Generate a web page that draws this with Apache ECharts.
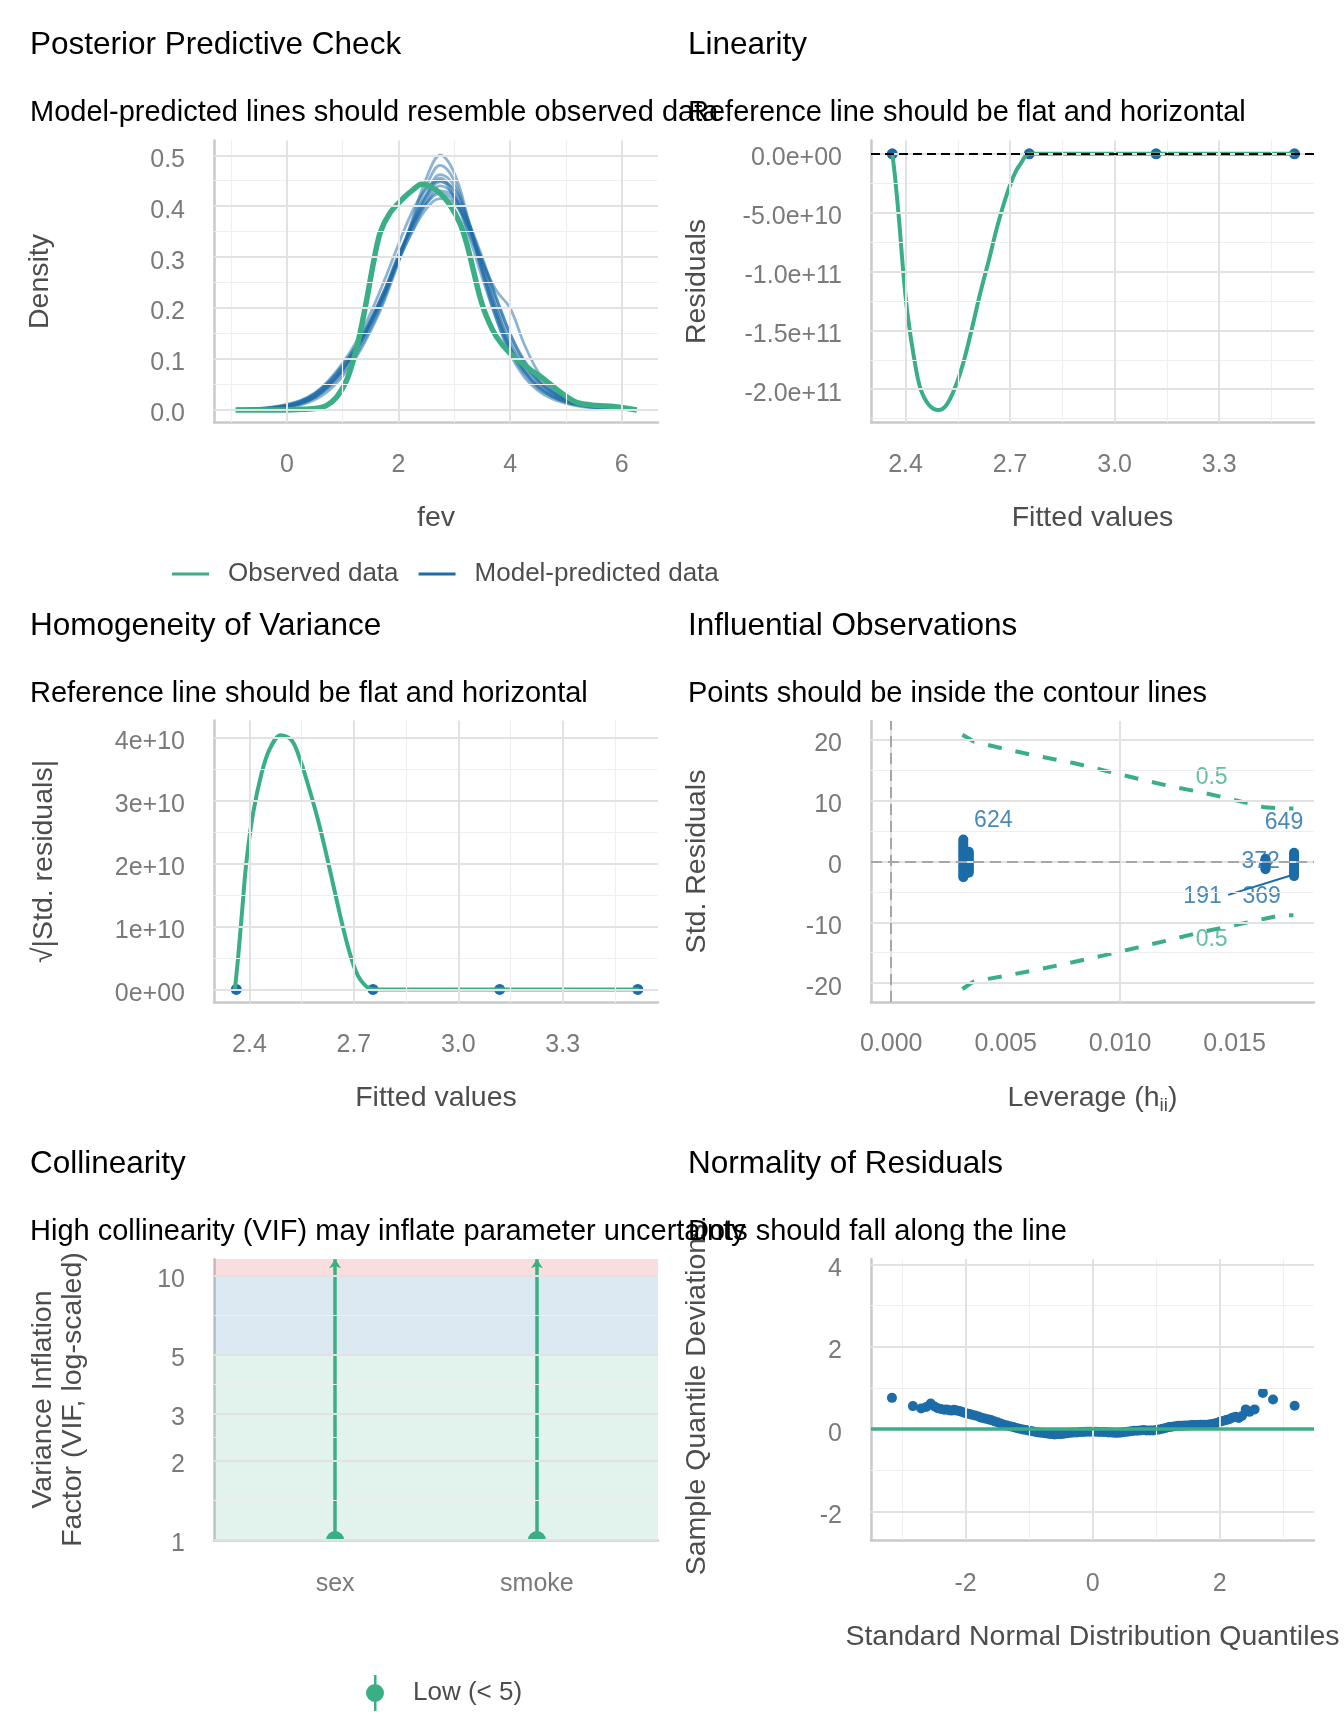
<!DOCTYPE html>
<html>
<head>
<meta charset="utf-8">
<script src="https://cdn.jsdelivr.net/npm/echarts@6/dist/echarts.min.js"></script>
<style>
html,body{margin:0;padding:0;background:#fff;}
#main{width:1344px;height:1728px;}
</style>
</head>
<body>
<div id="main"></div>
<script>
// ---------- data ----------
// posterior predictive check
var ppcSimX = [-0.9,-0.5,-0.25,0,0.25,0.5,0.75,1,1.25,1.5,1.75,2,2.25,2.5,2.75,3,3.25,3.5,3.75,4,4.25,4.5,4.75,5,5.25,5.5,5.75,6,6.25];
var ppcSim01 = [0.001,0.002,0.004,0.008,0.015,0.028,0.050,0.080,0.120,0.170,0.230,0.300,0.360,0.410,0.440,0.420,0.360,0.280,0.200,0.130,0.085,0.055,0.033,0.020,0.012,0.007,0.004,0.002,0.001];
var ppcSim02 = [0.001,0.001,0.003,0.006,0.012,0.024,0.044,0.072,0.110,0.160,0.220,0.295,0.370,0.440,0.480,0.450,0.370,0.275,0.190,0.120,0.075,0.045,0.027,0.016,0.009,0.005,0.003,0.002,0.001];
var ppcSim03 = [0.002,0.003,0.006,0.011,0.019,0.033,0.056,0.088,0.128,0.178,0.235,0.295,0.350,0.395,0.415,0.405,0.360,0.295,0.220,0.150,0.098,0.062,0.038,0.023,0.014,0.008,0.005,0.003,0.001];
var ppcSim04 = [0.001,0.002,0.005,0.010,0.018,0.033,0.058,0.092,0.135,0.190,0.255,0.325,0.390,0.435,0.450,0.415,0.345,0.260,0.180,0.115,0.072,0.043,0.026,0.015,0.009,0.005,0.003,0.002,0.001];
var ppcSim05 = [0.001,0.001,0.002,0.005,0.010,0.020,0.038,0.066,0.105,0.155,0.215,0.290,0.375,0.455,0.500,0.465,0.375,0.270,0.180,0.110,0.065,0.038,0.022,0.013,0.007,0.004,0.002,0.001,0.001];
var ppcSim06 = [0.001,0.002,0.004,0.008,0.016,0.030,0.052,0.083,0.123,0.172,0.228,0.292,0.352,0.405,0.430,0.418,0.370,0.300,0.222,0.150,0.095,0.058,0.035,0.021,0.012,0.007,0.004,0.002,0.001];
var ppcSim07 = [0.001,0.002,0.004,0.007,0.013,0.025,0.046,0.077,0.118,0.168,0.226,0.298,0.368,0.425,0.462,0.440,0.365,0.272,0.188,0.122,0.078,0.049,0.030,0.018,0.010,0.006,0.003,0.002,0.001];
var ppcSim08 = [0.001,0.002,0.004,0.008,0.014,0.026,0.047,0.078,0.118,0.168,0.228,0.300,0.365,0.420,0.455,0.425,0.350,0.290,0.235,0.200,0.130,0.075,0.040,0.022,0.012,0.007,0.004,0.002,0.001];
var ppcSim09 = [0.002,0.003,0.005,0.009,0.017,0.031,0.054,0.086,0.126,0.176,0.236,0.305,0.362,0.405,0.425,0.410,0.362,0.292,0.212,0.140,0.090,0.057,0.035,0.021,0.012,0.007,0.004,0.002,0.001];
var ppcSim10 = [0.001,0.002,0.003,0.007,0.013,0.026,0.048,0.080,0.122,0.174,0.234,0.302,0.362,0.418,0.448,0.432,0.372,0.285,0.198,0.125,0.078,0.047,0.028,0.017,0.010,0.006,0.003,0.002,0.001];
var ppcObsX = [-0.92,-0.5,-0.13,0.2,0.5,0.7,0.89,1.07,1.19,1.31,1.43,1.55,1.67,1.85,2.09,2.27,2.41,2.56,2.74,2.92,3.10,3.22,3.34,3.46,3.58,3.76,4.00,4.30,4.60,4.90,5.19,5.55,5.85,6.27];
var ppcObsY = [0,0,0,0.001,0.003,0.008,0.025,0.058,0.097,0.150,0.216,0.288,0.347,0.387,0.416,0.433,0.443,0.439,0.426,0.403,0.367,0.328,0.275,0.222,0.183,0.143,0.111,0.084,0.061,0.035,0.015,0.0086,0.0066,0];

// fitted values (4 cells) and the smoother curves
var fittedX = [2.362, 2.755, 3.119, 3.516];
var fittedResid = [0, 0, 0, 0];
var fittedSqrtRes = [0, 0, 0, 0];
var linCurveX = [2.362,2.369,2.382,2.394,2.406,2.425,2.443,2.468,2.495,2.517,2.541,2.566,2.590,2.615,2.640,2.664,2.689,2.713,2.732,2.755,3.119,3.516];
var linCurveY = [0,-1.70e10,-5.79e10,-10.19e10,-13.65e10,-17.43e10,-19.95e10,-21.36e10,-21.77e10,-21.36e10,-19.95e10,-17.74e10,-14.91e10,-11.77e10,-8.94e10,-6.10e10,-3.59e10,-1.70e10,-0.76e10,0,0,0];
var homCurveX = [2.358,2.367,2.379,2.391,2.410,2.435,2.459,2.490,2.521,2.545,2.570,2.595,2.619,2.644,2.669,2.693,2.718,2.755,3.121,3.520];
var homCurveY = [0,0.49e10,1.26e10,2.02e10,2.79e10,3.44e10,3.83e10,4.04e10,3.96e10,3.66e10,3.22e10,2.73e10,2.19e10,1.58e10,0.98e10,0.49e10,0.16e10,0,0,0];

// influential observations
var infLevA = 0.00315, infResA = [3.6,3.2,2.8,2.4,2.0,1.6,1.2,0.8,0.4,0.0,-0.4,-0.8,-1.2,-1.6,-2.0,-2.3,-2.6];
var infLevB = 0.00339, infResB = [1.6,1.2,0.8,0.4,0.0,-0.4,-0.8,-1.2,-1.5,-1.85];
var infLevC = 0.01635, infResC = [0.45,0.15,-0.15,-0.45,-0.75,-1.05,-1.27];
var infLevD = 0.01760, infResD = [1.45,1.1,0.75,0.4,0.05,-0.3,-0.65,-1.0,-1.35,-1.7,-2.05,-2.4];
var contourX = [0.00311,0.00361,0.00511,0.00652,0.00792,0.00929,0.01069,0.01210,0.01348,0.01491,0.01631,0.01700,0.01757];
var contourUp = [20.85,19.72,18.37,17.24,16.23,14.99,13.69,12.45,11.44,10.20,8.90,8.73,8.73];
var contourLow = [-20.96,-19.72,-18.70,-17.69,-16.56,-15.44,-14.20,-12.96,-11.66,-10.54,-9.41,-8.85,-8.85];
var infLabels = ['624','649','372','191','369'];
var infLabelX = [0.00446,0.01716,0.01614,0.01360,0.01618];
var infLabelY = [6.7,6.33,0.0,-5.77,-5.77];
var contourLabels = ['0.5','0.5'];
var contourLabelX = [0.0140,0.0140];
var contourLabelY = [13.74,-12.9];
var repelSegX = [0.01472,0.01756];
var repelSegY = [-5.49,-2.19];

// collinearity
var vifTerms = ['sex','smoke'];
var vifValue = [1.0, 1.0];
var vifHigh = [11.5, 11.5];

// normality (detrended QQ)
var qqX = [-3.16,-2.83,-2.70,-2.62,-2.55,-2.49,-2.44,-2.39,-2.34,-2.30,-2.26,-2.22,-2.18,-2.14,-2.10,-2.06,-2.02,-1.98,-1.94,-1.90,-1.85,-1.80,-1.75,-1.70,-1.65,-1.60,-1.55,-1.50,-1.45,-1.40,-1.35,-1.30,-1.25,-1.20,-1.15,-1.10,-1.05,-1.00,-0.95,-0.90,-0.85,-0.80,-0.75,-0.70,-0.65,-0.60,-0.55,-0.50,-0.45,-0.40,-0.35,-0.30,-0.25,-0.20,-0.15,-0.10,-0.05,0.00,0.05,0.10,0.15,0.20,0.25,0.30,0.35,0.40,0.45,0.50,0.55,0.60,0.65,0.70,0.75,0.80,0.85,0.90,0.95,1.00,1.05,1.10,1.15,1.20,1.25,1.30,1.35,1.40,1.45,1.50,1.55,1.60,1.65,1.70,1.75,1.80,1.85,1.90,1.95,2.00,2.05,2.10,2.15,2.20,2.25,2.30,2.35,2.41,2.47,2.55,2.68,2.84,3.18];
var qqY = [0.76,0.56,0.50,0.54,0.62,0.55,0.51,0.49,0.47,0.48,0.46,0.45,0.47,0.45,0.44,0.42,0.40,0.38,0.37,0.35,0.33,0.31,0.28,0.26,0.24,0.22,0.19,0.17,0.14,0.11,0.09,0.07,0.05,0.03,0.01,-0.01,-0.02,-0.04,-0.05,-0.07,-0.08,-0.09,-0.10,-0.11,-0.12,-0.13,-0.12,-0.12,-0.11,-0.10,-0.09,-0.08,-0.08,-0.07,-0.07,-0.06,-0.06,-0.06,-0.06,-0.07,-0.07,-0.07,-0.08,-0.08,-0.09,-0.09,-0.08,-0.07,-0.06,-0.05,-0.04,-0.04,-0.03,-0.02,-0.03,-0.03,-0.03,-0.02,-0.01,0.01,0.03,0.05,0.06,0.07,0.08,0.08,0.09,0.09,0.10,0.10,0.10,0.11,0.11,0.11,0.12,0.13,0.15,0.18,0.20,0.22,0.24,0.28,0.30,0.27,0.32,0.48,0.42,0.48,0.88,0.72,0.57];

// titles and axis names
var titles = ['Posterior Predictive Check','Linearity','Homogeneity of Variance','Influential Observations','Collinearity','Normality of Residuals'];
var subtitles = ['Model-predicted lines should resemble observed data','Reference line should be flat and horizontal','Reference line should be flat and horizontal','Points should be inside the contour lines','High collinearity (VIF) may inflate parameter uncertainty','Dots should fall along the line'];

// ---------- styling ----------
var GREEN = '#3aaf85', BLUE = '#1b6ca8';
var FONT = '"Liberation Sans", Arial, sans-serif';
var TICK = '#7a7a7a', AXT = '#4d4d4d';
var MAJOR = {color: '#e2e2e2', width: 2, type: 'solid'};
var MINOR = {color: '#efefef', width: 1.2, type: 'solid'};

function pts(xs, ys) { return xs.map(function (x, i) { return [x, ys[i]]; }); }
function col(x, ys) { return ys.map(function (y) { return [x, y]; }); }
function sci(d) {
  return function (v) {
    if (v === 0) return (0).toFixed(d) + 'e+00';
    var e = Math.floor(Math.log10(Math.abs(v)) + 1e-9);
    var m = v / Math.pow(10, e);
    var a = Math.abs(e);
    return m.toFixed(d) + 'e' + (e < 0 ? '-' : '+') + (a < 10 ? '0' : '') + a;
  };
}

var grids = [
  {left: 214, top: 140.5, width: 444, height: 282},
  {left: 871, top: 140.5, width: 443, height: 282},
  {left: 214, top: 720.5, width: 444, height: 282},
  {left: 871, top: 721, width: 443, height: 281},
  {left: 214, top: 1259, width: 444, height: 281},
  {left: 871, top: 1259, width: 443, height: 281}
];

function axis(gi, isY, min, max, ticks, fmt, name, gap, margin) {
  var a = {
    type: 'value', gridIndex: gi, min: min, max: max,
    name: name, nameLocation: 'middle', nameGap: gap,
    nameTextStyle: {fontSize: 28.5, color: AXT, fontFamily: FONT, lineHeight: 34},
    axisLine: {show: true, onZero: false, lineStyle: {color: '#c9c9c9', width: 2.5}},
    axisTick: {show: false},
    splitLine: {show: false},
    axisLabel: {customValues: ticks, formatter: fmt, fontSize: 25, color: TICK, fontFamily: FONT, margin: margin}
  };
  if (isY) {
    a.nameRotate = 90;
    // digits sit a little lower than the em-box middle in the reference
    a.axisLabel.verticalAlign = 'top';
    a.axisLabel.lineHeight = 9;
  }
  return a;
}
function plain(v) { return String(v); }
function fix1(v) { return v.toFixed(1); }

var xAxes = [
  axis(0, false, -1.305, 6.65, [0, 2, 4, 6], plain, 'fev', 79, 30),
  axis(1, false, 2.301, 3.572, [2.4, 2.7, 3.0, 3.3], fix1, 'Fitted values', 79, 30),
  axis(2, false, 2.298, 3.574, [2.4, 2.7, 3.0, 3.3], fix1, 'Fitted values', 79, 30),
  axis(3, false, -0.000883, 0.01847, [0, 0.005, 0.01, 0.015], function (v) { return v.toFixed(3); }, 'Leverage (h{sub|ii})', 79, 30),
  axis(4, false, 0.4, 2.6, [1, 2], function (v) { return vifTerms[Math.round(v) - 1]; }, '', 79, 32),
  axis(5, false, -3.49, 3.485, [-2, 0, 2], plain, 'Standard Normal Distribution Quantiles', 80, 32)
];
xAxes[3].nameTextStyle.rich = {sub: {fontSize: 19, color: AXT, fontFamily: FONT, lineHeight: 14, verticalAlign: 'bottom'}};

var yAxes = [
  axis(0, true, -0.0246, 0.529, [0, 0.1, 0.2, 0.3, 0.4, 0.5], fix1, 'Density', 157, 29),
  axis(1, true, -2.283e11, 1.13e10, [0, -5e10, -1e11, -1.5e11, -2e11], sci(1), 'Residuals', 157, 29),
  axis(2, true, -0.208e10, 4.273e10, [0, 1e10, 2e10, 3e10, 4e10], sci(0), '\u221A|Std. residuals|', 153, 29),
  axis(3, true, -23.1, 23.1, [-20, -10, 0, 10, 20], plain, 'Std. Residuals', 157, 29),
  axis(4, true, 1, 11.52, [1, 2, 3, 5, 10], plain, 'Variance Inflation\nFactor (VIF, log-scaled)', 126, 29),
  axis(5, true, -2.69, 4.13, [-2, 0, 2, 4], plain, 'Sample Quantile Deviations', 157, 29)
];
yAxes[4].type = 'log';
yAxes[4].logBase = 10;
yAxes[4].nameTextStyle.lineHeight = 30;

// background grid drawn as mark lines on a silent helper series
function gridSeries(gi, majX, minX, majY, minY, extra) {
  var d = [];
  minX.forEach(function (v) { d.push({xAxis: v, lineStyle: MINOR}); });
  minY.forEach(function (v) { d.push({yAxis: v, lineStyle: MINOR}); });
  majX.forEach(function (v) { d.push({xAxis: v, lineStyle: MAJOR}); });
  majY.forEach(function (v) { d.push({yAxis: v, lineStyle: MAJOR}); });
  (extra || []).forEach(function (e) { d.push(e); });
  return {
    type: 'line', xAxisIndex: gi, yAxisIndex: gi, data: [], z: 0, silent: true,
    markLine: {silent: true, symbol: ['none', 'none'], label: {show: false}, animation: false, data: d}
  };
}

var series = [];
series.push(gridSeries(0, [0, 2, 4, 6], [-1, 1, 3, 5], [0, 0.1, 0.2, 0.3, 0.4, 0.5], [0.05, 0.15, 0.25, 0.35, 0.45]));
series.push(gridSeries(1, [2.4, 2.7, 3.0, 3.3], [2.55, 2.85, 3.15, 3.45], [0, -5e10, -1e11, -1.5e11, -2e11], [-2.5e10, -7.5e10, -1.25e11, -1.75e11, -2.25e11]));
series.push(gridSeries(2, [2.4, 2.7, 3.0, 3.3], [2.55, 2.85, 3.15, 3.45], [0, 1e10, 2e10, 3e10, 4e10], [0.5e10, 1.5e10, 2.5e10, 3.5e10]));
var REFDASH = {color: '#a6a6a6', width: 2, type: [11, 6]};
series.push(gridSeries(3, [0, 0.005, 0.01, 0.015], [0.0025, 0.0075, 0.0125, 0.0175], [-20, -10, 0, 10, 20], [-15, -5, 5, 15],
  [{xAxis: 0, lineStyle: REFDASH}, {yAxis: 0, lineStyle: REFDASH}]));
series.push(gridSeries(4, [], [], [1, 2, 3, 5, 10], [1.41, 2.45, 3.87, 7.07]));
series.push(gridSeries(5, [-2, 0, 2], [-3, -1, 1, 3], [-2, 0, 2, 4], [-1, 1, 3]));

// panel 1: posterior predictive check
[ppcSim01, ppcSim02, ppcSim03, ppcSim04, ppcSim05, ppcSim06, ppcSim07, ppcSim08, ppcSim09, ppcSim10].forEach(function (s) {
  series.push({
    type: 'line', name: 'Model-predicted data', xAxisIndex: 0, yAxisIndex: 0, z: 2,
    data: pts(ppcSimX, s), smooth: 0.4, symbol: 'none', color: BLUE,
    lineStyle: {width: 2.8, opacity: 0.5}
  });
});
series.push({
  type: 'line', name: 'Observed data', xAxisIndex: 0, yAxisIndex: 0, z: 3,
  data: pts(ppcObsX, ppcObsY), smooth: 0.3, symbol: 'none', color: GREEN,
  lineStyle: {width: 5.5}
});

// panel 2: linearity
series.push({type: 'scatter', xAxisIndex: 1, yAxisIndex: 1, z: 2, data: pts(fittedX, fittedResid), symbolSize: 11, itemStyle: {color: BLUE, opacity: 1}});
series.push({type: 'line', xAxisIndex: 1, yAxisIndex: 1, z: 3, data: pts(linCurveX, linCurveY), smooth: 0.35, symbol: 'none', color: GREEN, lineStyle: {width: 4}});
series.push({
  type: 'line', xAxisIndex: 1, yAxisIndex: 1, data: [], z: 5, silent: true,
  markLine: {silent: true, symbol: ['none', 'none'], label: {show: false}, animation: false,
    data: [{yAxis: 0, lineStyle: {color: '#000', width: 2, type: [9, 5]}}]}
});

// panel 3: homogeneity of variance
series.push({type: 'scatter', xAxisIndex: 2, yAxisIndex: 2, z: 2, data: pts(fittedX, fittedSqrtRes), symbolSize: 11, itemStyle: {color: BLUE, opacity: 1}});
series.push({type: 'line', xAxisIndex: 2, yAxisIndex: 2, z: 3, data: pts(homCurveX, homCurveY), smooth: 0.35, symbol: 'none', color: GREEN, lineStyle: {width: 4}});

// panel 4: influential observations
var CONTOUR = {color: GREEN, width: 4, type: [14, 14]};
series.push({type: 'line', xAxisIndex: 3, yAxisIndex: 3, z: 2, data: pts(contourX, contourUp), symbol: 'none', color: GREEN, lineStyle: CONTOUR});
series.push({type: 'line', xAxisIndex: 3, yAxisIndex: 3, z: 2, data: pts(contourX, contourLow), symbol: 'none', color: GREEN, lineStyle: CONTOUR});
function textMarks(names, xs, ys, color) {
  return {
    type: 'scatter', xAxisIndex: 3, yAxisIndex: 3, z: 2, symbol: 'circle', symbolSize: 1,
    itemStyle: {color: 'rgba(0,0,0,0)'},
    data: names.map(function (t, i) { return {name: t, value: [xs[i], ys[i]]}; }),
    label: {show: true, position: 'inside', formatter: '{b}', fontSize: 23, color: color, fontFamily: FONT}
  };
}
series.push(textMarks(contourLabels, contourLabelX, contourLabelY, GREEN));
series.push(textMarks(infLabels, infLabelX, infLabelY, BLUE));
series.push({type: 'line', xAxisIndex: 3, yAxisIndex: 3, z: 3, data: pts(repelSegX, repelSegY), symbol: 'none', color: BLUE, lineStyle: {width: 2}});
series.push({
  type: 'scatter', xAxisIndex: 3, yAxisIndex: 3, z: 4, symbolSize: 10, itemStyle: {color: BLUE, opacity: 1},
  data: col(infLevA, infResA).concat(col(infLevB, infResB), col(infLevC, infResC), col(infLevD, infResD))
});

// panel 5: collinearity
series.push({
  type: 'line', xAxisIndex: 4, yAxisIndex: 4, data: [], z: 1, silent: true,
  markArea: {silent: true, animation: false, data: [
    [{yAxis: 1, itemStyle: {color: 'rgba(58,175,133,0.15)'}}, {yAxis: 5}],
    [{yAxis: 5, itemStyle: {color: 'rgba(27,108,168,0.15)'}}, {yAxis: 10}],
    [{yAxis: 10, itemStyle: {color: 'rgba(205,32,31,0.15)'}}, {yAxis: 11.52}]
  ]}
});
series.push({
  type: 'lines', coordinateSystem: 'cartesian2d', xAxisIndex: 4, yAxisIndex: 4, z: 3,
  symbol: ['none', 'arrow'], symbolSize: 9,
  lineStyle: {color: GREEN, width: 3.5, opacity: 1, curveness: 0},
  data: vifTerms.map(function (t, i) { return {coords: [[i + 1, vifValue[i]], [i + 1, vifHigh[i]]]}; })
});
series.push({
  type: 'scatter', name: 'Low (< 5)', xAxisIndex: 4, yAxisIndex: 4, z: 4, clip: false,
  symbol: 'path://M0,10 A10,10 0 0 1 20,10 Z', symbolSize: [18, 9], symbolOffset: [0, -4.5],
  itemStyle: {color: GREEN, opacity: 1},
  data: vifTerms.map(function (t, i) { return [i + 1, vifValue[i]]; })
});

// panel 6: normality of residuals
series.push({
  type: 'line', xAxisIndex: 5, yAxisIndex: 5, data: [], z: 2, silent: true,
  markLine: {silent: true, symbol: ['none', 'none'], label: {show: false}, animation: false,
    data: [{yAxis: 0, lineStyle: {color: GREEN, width: 3.5, type: 'solid'}}]}
});
series.push({type: 'scatter', xAxisIndex: 5, yAxisIndex: 5, z: 3, symbolSize: 10, itemStyle: {color: BLUE, opacity: 1}, data: pts(qqX, qqY)});

// titles
var titleLeft = [30, 688, 30, 688, 30, 688];
var titleMid = [45.5, 45.5, 626, 626, 1164.5, 1164.5];
var subMid = [113, 113, 694, 694, 1232, 1232];
var titleComps = [];
titles.forEach(function (t, i) {
  titleComps.push({text: t, left: titleLeft[i], top: titleMid[i] - 18, padding: 0,
    textStyle: {fontSize: 31.5, fontWeight: 'normal', color: '#000', fontFamily: FONT, lineHeight: 36}});
});
subtitles.forEach(function (t, i) {
  titleComps.push({text: t, left: titleLeft[i], top: subMid[i] - 17, padding: 0,
    textStyle: {fontSize: 29, fontWeight: 'normal', color: '#000', fontFamily: FONT, lineHeight: 34}});
});

var option = {
  backgroundColor: '#fff',
  animation: false,
  title: titleComps,
  legend: [{
    data: [
      {name: 'Observed data', itemStyle: {color: GREEN, opacity: 1}},
      {name: 'Model-predicted data', itemStyle: {color: BLUE, opacity: 1}}
    ],
    left: 172, top: 561, icon: 'rect', itemWidth: 37, itemHeight: 3, itemGap: 20, padding: 0,
    selectedMode: false,
    textStyle: {fontSize: 26, color: AXT, fontFamily: FONT, padding: [0, 0, 0, 14]}
  }, {
    data: [{name: 'Low (< 5)', icon: 'path://M8,0 H10.5 V10 H8 Z M8,26 H10.5 V36 H8 Z M0,18 A9,9 0 1 1 18,18 A9,9 0 1 1 0,18 Z', itemStyle: {color: GREEN, opacity: 1}}],
    left: 366, top: 1675, itemWidth: 18, itemHeight: 36, padding: 0, selectedMode: false,
    textStyle: {fontSize: 26, color: AXT, fontFamily: FONT, padding: [0, 0, 0, 24]}
  }],
  grid: grids,
  xAxis: xAxes,
  yAxis: yAxes,
  series: series
};

var myChart = echarts.init(document.getElementById('main'));
myChart.setOption(option);
</script>
</body>
</html>
